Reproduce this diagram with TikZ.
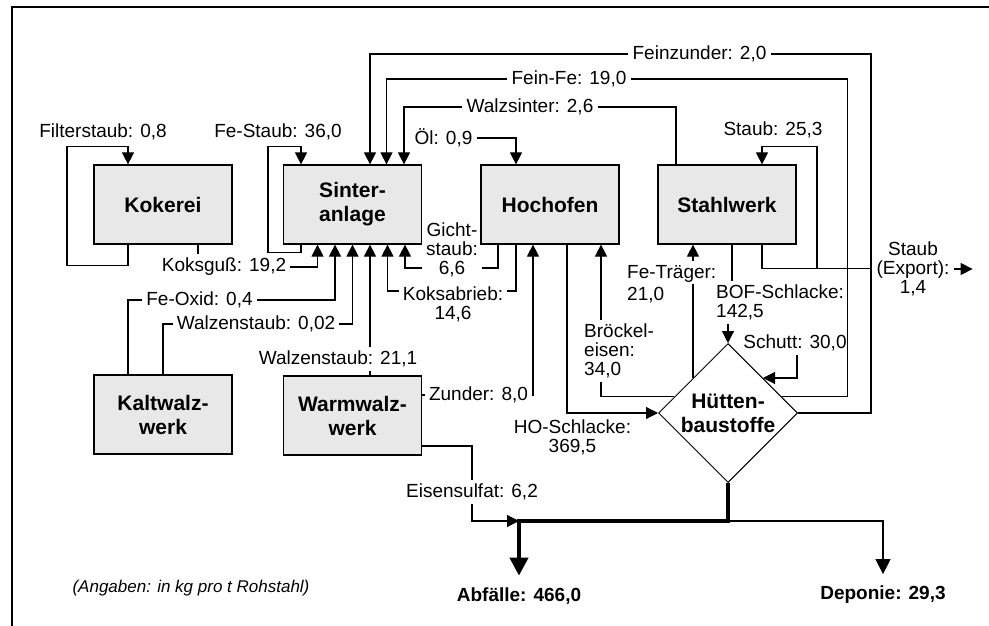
\documentclass[tikz,border=0pt]{standalone}
\usepackage{fontspec}
\setmainfont{Liberation Sans}
\usetikzlibrary{arrows.meta, shapes.geometric, calc, backgrounds}
\definecolor{cPlant}{HTML}{E8E8E8}
\newcommand{\lblfont}{\fontsize{19}{19}\selectfont}
\newcommand{\plantfont}{\fontsize{21}{24}\selectfont\bfseries}
\tikzset{
  plant/.style={
    draw=black, line width=1.2pt,
    fill=cPlant,
    minimum width=138pt,
    minimum height=79pt,
    inner sep=2pt,
    align=center,
    font=\plantfont
  },
  mixer/.style={
    diamond, draw=black, line width=1pt,
    fill=white,
    minimum width=139pt,
    minimum height=139pt,
    inner sep=0pt,
    align=center,
    font=\plantfont
  },
  flowlabel/.style={
    font=\lblfont,
    inner sep=4pt,
    align=center
  },
  result/.style={
    font=\lblfont\bfseries,
    inner sep=2pt,
    outer sep=10pt
  },
  pipe/.style={line width=1.1pt},
  flow/.style={pipe, -{Triangle[length=12pt,width=12pt]}},
  mainflow/.style={line width=4pt, -{Triangle[length=18pt,width=18pt]}},
  frame/.style={line width=2pt}
}

\begin{document}
\begin{tikzpicture}[x=1pt, y=-1pt]
  \useasboundingbox (0,0) rectangle (989,626);
  \draw[frame] (12,626) -- (12,7) -- (989,7);

  % plants
  \node[plant] (koke) at (163,204.5) {Kokerei};
  \node[plant] (sinter) at (352.5,204.5) {Sinter-\\anlage};
  \node[plant] (hoch) at (550,204.5) {Hochofen};
  \node[plant] (stahl) at (727,204.5) {Stahlwerk};
  \node[plant] (kalt) at (163,414.5) {Kaltwalz-\\werk};
  \node[plant] (warm) at (352.5,415.5) {Warmwalz-\\werk};
  \node[mixer] (hutt) at (728,413) {Hütten-\\baustoffe};

  % flow labels
  \node[flowlabel] (filt) at (103,132) {Filterstaub: 0,8};
  \node[flowlabel] (festaub) at (278,132) {Fe-Staub: 36,0};
  \node[flowlabel] (koksguss) at (224,267) {Koksguß: 19,2};
  \node[flowlabel] (feoxid) at (199.5,300) {Fe-Oxid: 0,4};
  \node[flowlabel] (walzA) at (256,324) {Walzenstaub: 0,02};
  \node[flowlabel, fill=white] (walzB) at (338,359) {Walzenstaub: 21,1};
  \node[flowlabel] (gicht) at (452,250) {Gicht-\\staub:\\6,6};
  \node[flowlabel] (koksab) at (453,304) {Koksabrieb:\\14,6};
  \node[flowlabel] (zunder) at (478.5,395) {Zunder: 8,0};
  \node[flowlabel] (hosch) at (572.5,437.5) {HO-Schlacke:\\369,5};
  \node[flowlabel, fill=white, align=left, anchor=west] (broeck) at (580,351) {Bröckel-\\eisen:\\34,0};
  \node[flowlabel, align=left, anchor=west] (fetr) at (623,284) {Fe-Träger:\\[2.5pt]21,0};
  \node[flowlabel, align=left, anchor=west] (bof) at (712,302.5) {BOF-Schlacke:\\142,5};
  \node[flowlabel] (staubst) at (773,130) {Staub: 25,3};
  \node[flowlabel] (staubexp) at (913,269) {Staub\\(Export):\\1,4};
  \node[flowlabel] (schutt) at (795,343) {Schutt: 30,0};
  \node[flowlabel] (eisen) at (472,492) {Eisensulfat: 6,2};
  \node[flowlabel] (oel) at (443.5,138) {Öl: 0,9};
  \node[flowlabel] (walzsint) at (530,107) {Walzsinter: 2,6};
  \node[flowlabel] (feinfe) at (569,79) {Fein-Fe: 19,0};
  \node[flowlabel] (feinz) at (699.5,54) {Feinzunder: 2,0};
  \node[result] (abf) at (519,596) {Abfälle: 466,0};
  \node[result] (dep) at (883,595) {Deponie: 29,3};
  \node[font=\fontsize{17}{17}\selectfont\itshape] (note) at (191,588.5) {(Angaben: in kg pro t Rohstahl)};

  % ports
  \coordinate (kgOut) at ([xshift=35pt]koke.south);
  \coordinate (feOut) at ($(hutt.north)!0.5!(hutt.west)$);
  \coordinate (bofOut) at ([xshift=5pt]stahl.south);
  \coordinate (split) at ([yshift=-38pt]hutt.south);
  \coordinate (merge) at (split -| abf.north);

  \begin{scope}[on background layer]
    % loops
    \draw[flow] ([xshift=-35pt]koke.south) -- ++(0,21) -- ++(-61,0) -- ++(0,-119) -| ([xshift=-35pt]koke.north);
    \draw[flow] ([xshift=-51.5pt]sinter.south) -- ++(0,8) -- ++(-33,0) -- ++(0,-106) -| ([xshift=-51.5pt]sinter.north);
    \draw[flow] ([xshift=35pt]stahl.south) -- ++(0,24) -- ++(55,0) coordinate (dustsplit) -- ++(0,-122) -| ([xshift=35pt]stahl.north);

    % into Sinteranlage from below
    \draw[pipe] (kgOut) -- (kgOut |- koksguss.north);
    \draw[flow] (koksguss.east) -| ([xshift=-35pt]sinter.south);
    \draw[pipe] ([xshift=-35pt]kalt.north) |- (feoxid.west);
    \draw[flow] (feoxid.east) -| ([xshift=-17.5pt]sinter.south);
    \draw[pipe] (kalt.north) |- (walzA.west);
    \draw[flow] (walzA.east) -| (sinter.south);
    \draw[flow] ([xshift=17.5pt]warm.north) -- ([xshift=17.5pt]sinter.south);
    \draw[pipe] ([xshift=-34pt]hoch.south) |- ([yshift=13pt]koksab.east);
    \draw[flow] ([yshift=13pt]koksab.west) -| ([xshift=35pt]sinter.south);
    \draw[pipe] ([xshift=-52pt]hoch.south) |- ([yshift=-18pt]gicht.east);
    \draw[flow] ([yshift=-18pt]gicht.west) -| ([xshift=52.5pt]sinter.south);

    % into Sinteranlage from above
    \draw[pipe] (hutt.east) -- ++(73,0) |- (feinz.east);
    \draw[flow] (feinz.west) -| ([xshift=17.5pt]sinter.north);
    \draw[pipe] ($(hutt.north)!0.77!(hutt.east)$) -- ++(66,0) |- (feinfe.east);
    \draw[flow] (feinfe.west) -| ([xshift=34pt]sinter.north);
    \draw[pipe] ([xshift=-51pt]stahl.north) |- (walzsint.east);
    \draw[flow] (walzsint.west) -| ([xshift=51.5pt]sinter.north);

    % Hochofen
    \draw[flow] (oel.east) -| ([xshift=-34pt]hoch.north);
    \draw[pipe] (warm.east |- zunder.west) -- (zunder.west);
    \draw[flow] (zunder.east) -| ([xshift=-17pt]hoch.south);
    \draw[flow] ([xshift=17pt]hoch.south) |- (hutt.west);
    \draw[flow] ($(hutt.north)!0.77!(hutt.west)$) -| ([xshift=51pt]hoch.south);

    % Stahlwerk
    \draw[pipe] (feOut) -- (feOut |- fetr.center);
    \draw[flow] (feOut |- fetr.north) -- (feOut |- stahl.south);
    \draw[pipe] (bofOut) -- (bofOut |- bof.north);
    \draw[flow] (bof.south -| hutt.north) -- (hutt.north);
    \draw[pipe] (dustsplit) -- (dustsplit -| staubexp.west);
    \draw[flow] (staubexp.east) -- ++(19,0);
    \draw[flow] ([xshift=2pt]schutt.south) |- ($(hutt.north)!0.5!(hutt.east)$);

    % outputs
    \draw[pipe] ([yshift=-30.5pt]warm.east) -| (eisen.north);
    \draw[flow] (eisen.south) |- (merge);
    \draw[mainflow] (hutt.south) -- (split) -- (merge) -- (abf.north);
    \draw[pipe, -{Triangle[length=15pt,width=15pt]}] (split) -| (dep.north);
  \end{scope}
\end{tikzpicture}
\end{document}
